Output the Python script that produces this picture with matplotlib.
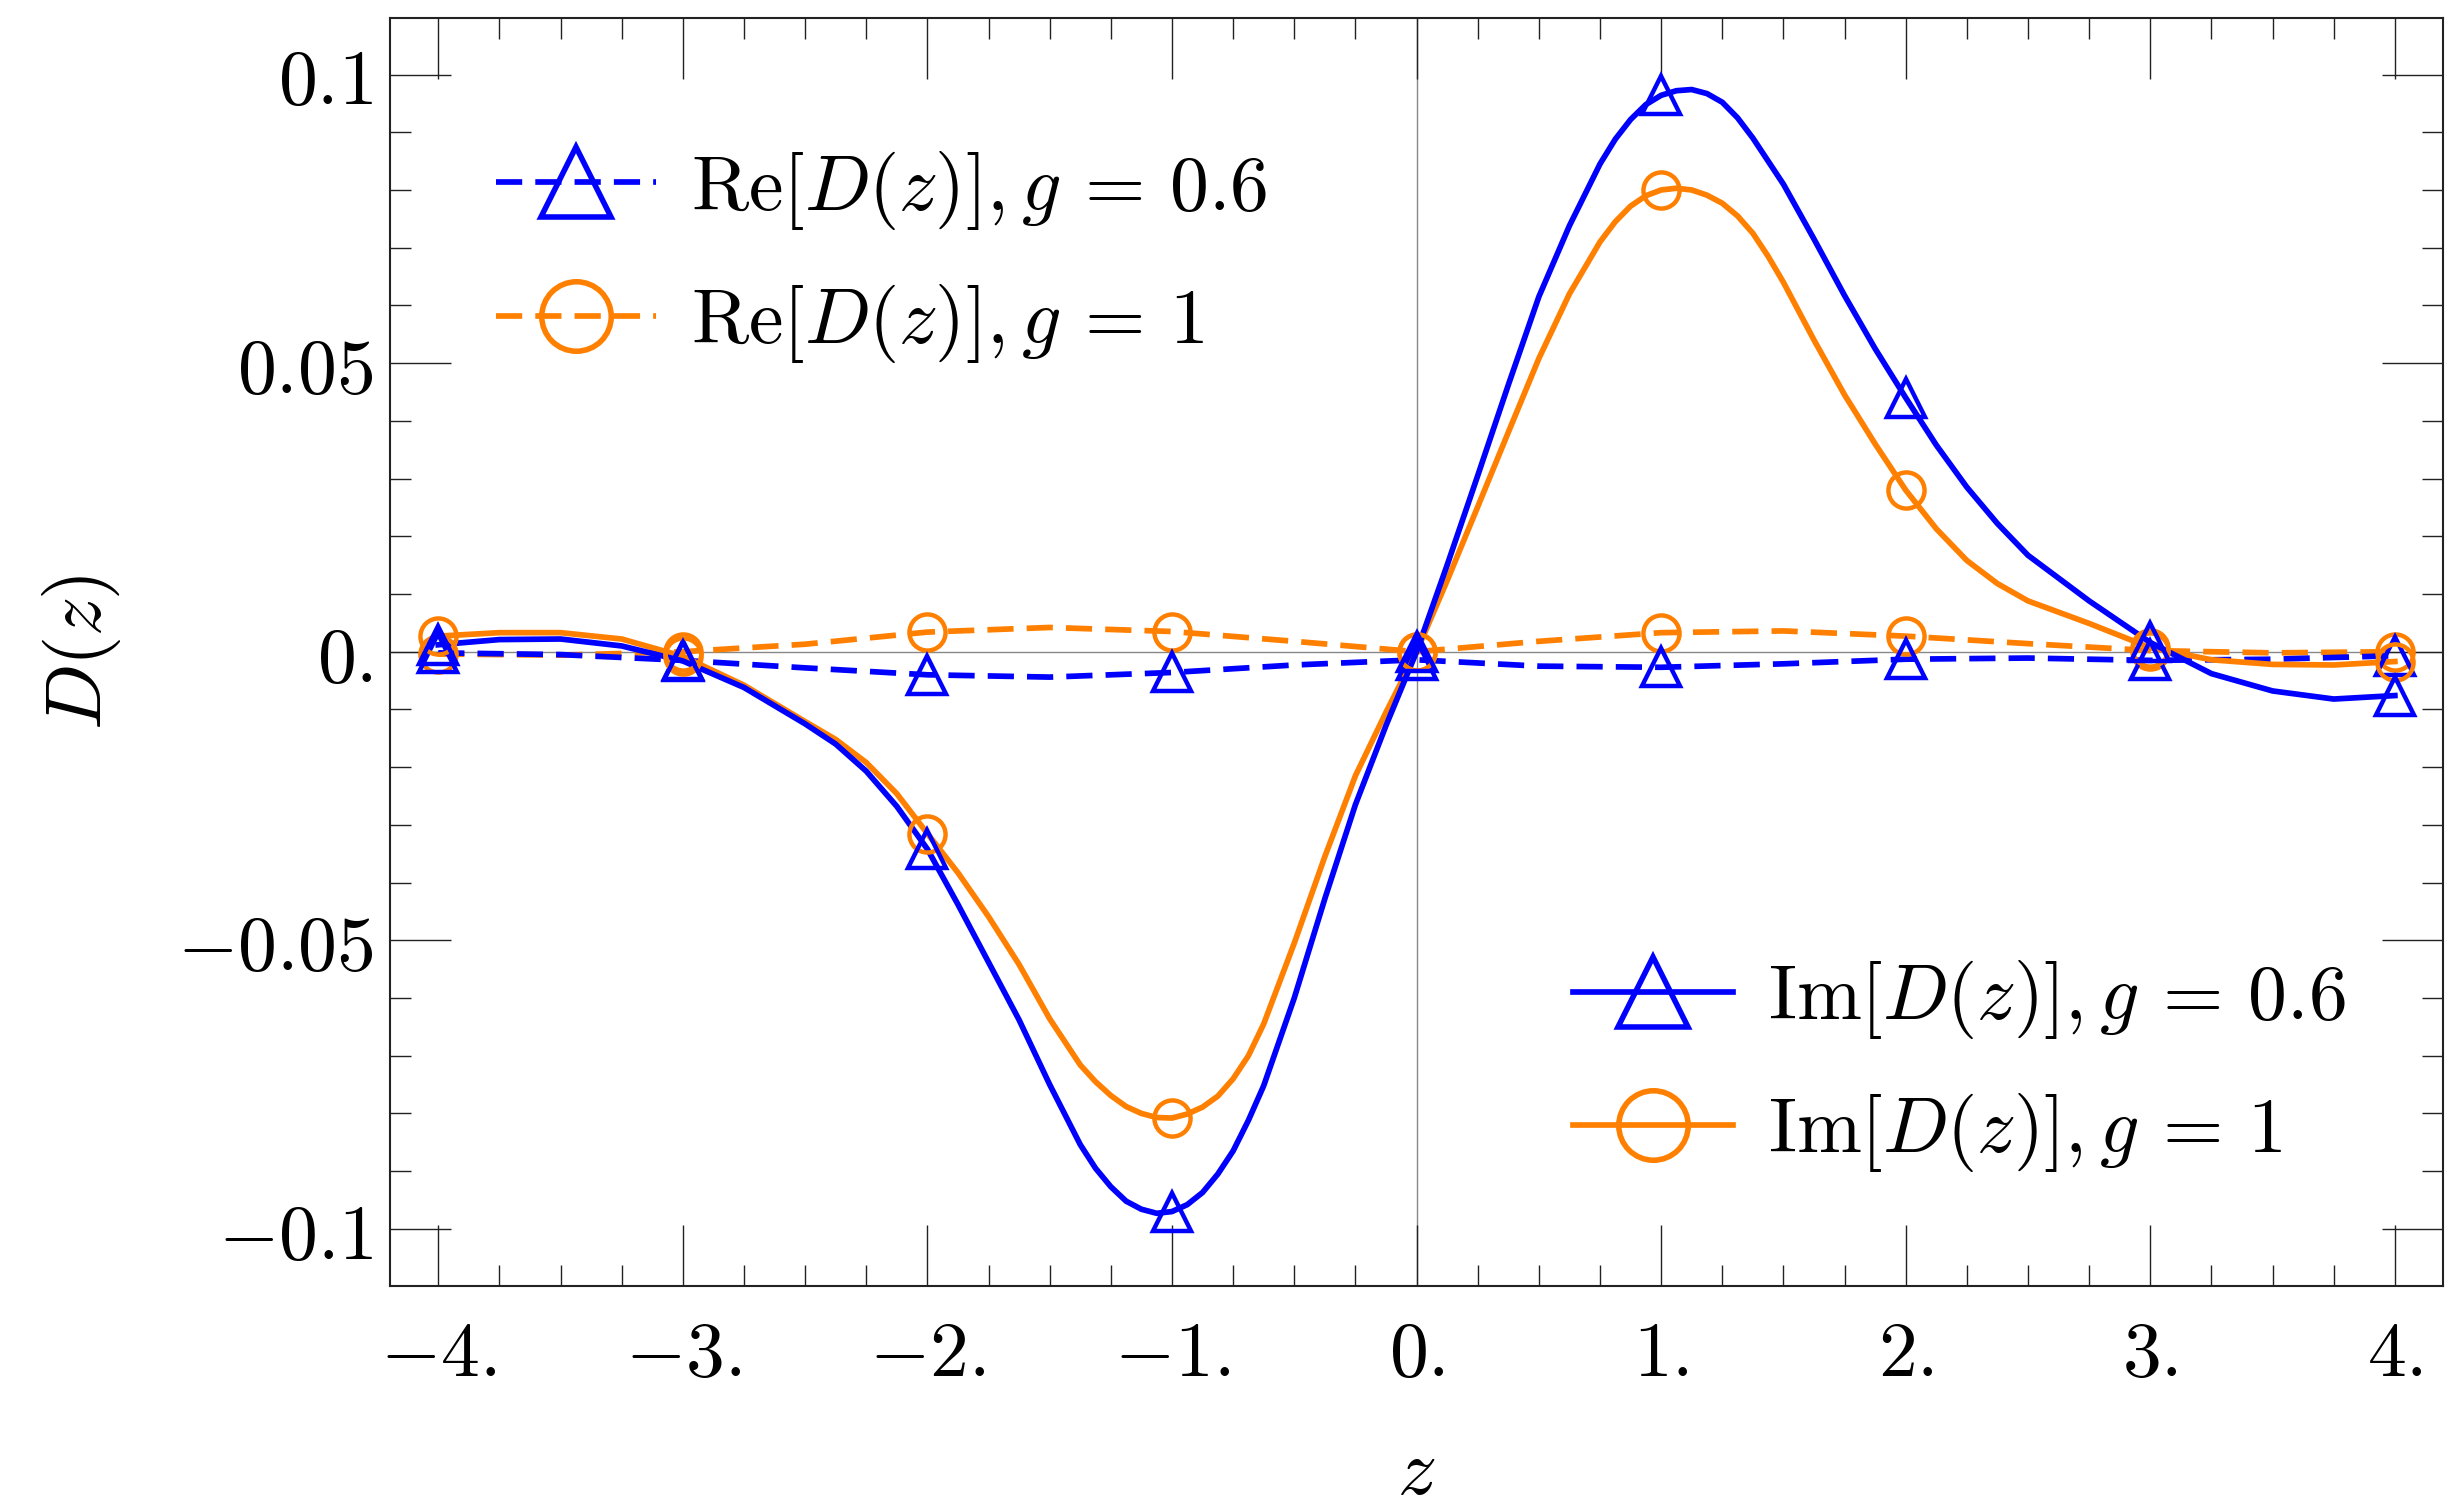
import numpy as np
import matplotlib
matplotlib.use('Agg')
import matplotlib.pyplot as plt
from matplotlib.lines import Line2D

plt.rcParams['mathtext.fontset'] = 'cm'
plt.rcParams['font.family'] = ['DejaVu Serif']

# Im[D(z)] curves (finer steps around the extrema)
z_im = [-4, -3.75, -3.5, -3.25, -3, -2.75, -2.5, -2.375, -2.25, -2.125,
        -2, -1.875, -1.75, -1.625, -1.5, -1.375, -1.3125, -1.25, -1.1875, -1.125, -1.0625,
        -1, -0.9375, -0.875, -0.8125, -0.75, -0.6875, -0.625, -0.5, -0.375, -0.25, -0.125,
        0, 0.125, 0.25, 0.375, 0.5, 0.625, 0.75, 0.8125, 0.875, 0.9375,
        1, 1.0625, 1.125, 1.1875, 1.25, 1.3125, 1.375, 1.4375, 1.5, 1.625, 1.75, 1.875,
        2, 2.125, 2.25, 2.375, 2.5, 2.75, 3, 3.25, 3.5, 3.75, 4]
im_g06 = [0.0012, 0.0021, 0.0022, 0.0010, -0.0016, -0.0062, -0.0125, -0.0160, -0.0207, -0.0268,
          -0.0342, -0.0438, -0.0538, -0.0638, -0.0750, -0.0854, -0.0895, -0.0927, -0.0952, -0.0966, -0.0973,
          -0.0970, -0.0958, -0.0937, -0.0905, -0.0865, -0.0812, -0.0752, -0.0600, -0.0428, -0.0265, -0.0128,
          0.0, 0.0150, 0.0305, 0.0462, 0.0615, 0.0738, 0.0845, 0.0888, 0.0922, 0.0948,
          0.0964, 0.0972, 0.0974, 0.0967, 0.0952, 0.0925, 0.0890, 0.0850, 0.0810, 0.0715, 0.0617, 0.0525,
          0.0440, 0.0358, 0.0285, 0.0222, 0.0167, 0.0088, 0.0016, -0.0038, -0.0068, -0.0082, -0.0076]
im_g1 = [0.0027, 0.0033, 0.0033, 0.0022, -0.0008, -0.0058, -0.0121, -0.0152, -0.0192, -0.0246,
         -0.0315, -0.0383, -0.0459, -0.0542, -0.0636, -0.0716, -0.0745, -0.0769, -0.0788, -0.0800, -0.0807,
         -0.0808, -0.0801, -0.0789, -0.0770, -0.0740, -0.0700, -0.0645, -0.0505, -0.0355, -0.0215, -0.0105,
         0.0, 0.0123, 0.0251, 0.0380, 0.0508, 0.0620, 0.0710, 0.0745, 0.0772, 0.0790,
         0.0800, 0.0803, 0.0800, 0.0791, 0.0777, 0.0755, 0.0725, 0.0685, 0.0640, 0.0540, 0.0445, 0.0360,
         0.0280, 0.0213, 0.0158, 0.0118, 0.0088, 0.0049, 0.0007, -0.0014, -0.0022, -0.0023, -0.0017]

# Re[D(z)] curves (small, so half steps are enough)
z_re = [-4, -3.5, -3, -2.5, -2, -1.5, -1, -0.5, 0, 0.5, 1, 1.5, 2, 2.5, 3, 3.5, 4]
re_g06 = [-0.0002, -0.0005, -0.0015, -0.0028, -0.0040, -0.0044, -0.0036, -0.0023, -0.0014,
          -0.0025, -0.0027, -0.0021, -0.0013, -0.0011, -0.0015, -0.0013, -0.0007]
re_g1 = [-0.0004, -0.0006, 0.0000, 0.0013, 0.0034, 0.0042, 0.0035, 0.0018, 0.0000,
         0.0018, 0.0033, 0.0036, 0.0027, 0.0014, 0.0002, -0.0002, 0.0000]

xticks = [-4, -3, -2, -1, 0, 1, 2, 3, 4]
xticklabels = [r'$-4.$', r'$-3.$', r'$-2.$', r'$-1.$', r'$0.$', r'$1.$', r'$2.$', r'$3.$', r'$4.$']
yticks = [-0.1, -0.05, 0.0, 0.05, 0.1]
yticklabels = [r'$-0.1$', r'$-0.05$', r'$0.$', r'$0.05$', r'$0.1$']

blue = '#0000ff'
orange = '#ff8000'
fs = 56
lw = 4.1
dash = (0, (4.6, 2.3))
msize = {'o': 26, '^': 28}

fig = plt.figure(figsize=(24.64, 15.11), dpi=100)
ax = fig.add_axes([0.1583, 0.1489, 0.9915 - 0.1583, 0.9881 - 0.1489])

ax.axhline(0, color='#888888', lw=1.0, zorder=1)
ax.axvline(0, color='#888888', lw=1.0, zorder=1)

def integer_pts(z, v):
    z = np.asarray(z, float)
    v = np.asarray(v, float)
    m = np.isclose(z, np.round(z))
    return z[m], v[m]

series = [
    (z_re, re_g1, orange, dash, 'o'),
    (z_re, re_g06, blue, dash, '^'),
    (z_im, im_g1, orange, '-', 'o'),
    (z_im, im_g06, blue, '-', '^'),
]
for z, v, c, ls, mk in series:
    ax.plot(z, v, color=c, lw=lw, ls=ls, zorder=3, solid_joinstyle='round')
    zm, vm = integer_pts(z, v)
    ax.plot(zm, vm, ls='none', marker=mk, ms=msize[mk], mfc='none', mec=c, mew=3.2, zorder=4)

ax.set_xlim(-4.197, 4.197)
ax.set_ylim(-0.1099, 0.1098)
ax.set_xticks(xticks)
ax.set_xticklabels(xticklabels)
ax.set_yticks(yticks)
ax.set_yticklabels(yticklabels)
ax.set_xticks(np.arange(-4, 4.01, 0.25), minor=True)
ax.set_yticks(np.arange(-0.1, 0.1001, 0.01), minor=True)
ax.tick_params(which='both', direction='in', top=True, right=True, width=1.0, color='#222222')
ax.tick_params(which='major', length=44, labelsize=fs)
ax.tick_params(axis='x', which='major', pad=22)
ax.tick_params(axis='y', which='major', pad=12)
ax.tick_params(which='minor', length=15)
for s in ax.spines.values():
    s.set_linewidth(1.5)
    s.set_color('#222222')

ax.set_xlabel(r'$z$', fontsize=fs)
ax.xaxis.set_label_coords(0.5, -0.117)
ax.xaxis.label.set_va('top')
ax.set_ylabel(r'$D(z)$', fontsize=fs)
ax.yaxis.set_label_coords(-0.130, 0.5)

def handle(c, ls, mk):
    return Line2D([], [], color=c, lw=lw, ls=ls, marker=mk, ms=25, mfc='none', mec=c, mew=4.0)

leg_kw = dict(frameon=False, fontsize=fs, markerscale=2.0, handlelength=2.06,
              handletextpad=0.45, labelspacing=0.65, borderpad=0, borderaxespad=0,
              loc='center left', bbox_transform=fig.transFigure)
leg1 = ax.legend([handle(blue, dash, '^'), handle(orange, dash, 'o')],
                 [r'$\mathrm{Re}[D(z)], g\,=\,0.6$', r'$\mathrm{Re}[D(z)], g\,=\,1$'],
                 bbox_to_anchor=(496 / 2464, 1 - 257 / 1511), **leg_kw)
ax.add_artist(leg1)
ax.legend([handle(blue, '-', '^'), handle(orange, '-', 'o')],
          [r'$\mathrm{Im}[D(z)], g\,=\,0.6$', r'$\mathrm{Im}[D(z)], g\,=\,1$'],
          bbox_to_anchor=(1573 / 2464, 1 - 1066 / 1511), **leg_kw)

fig.savefig('out.png', dpi=100)
